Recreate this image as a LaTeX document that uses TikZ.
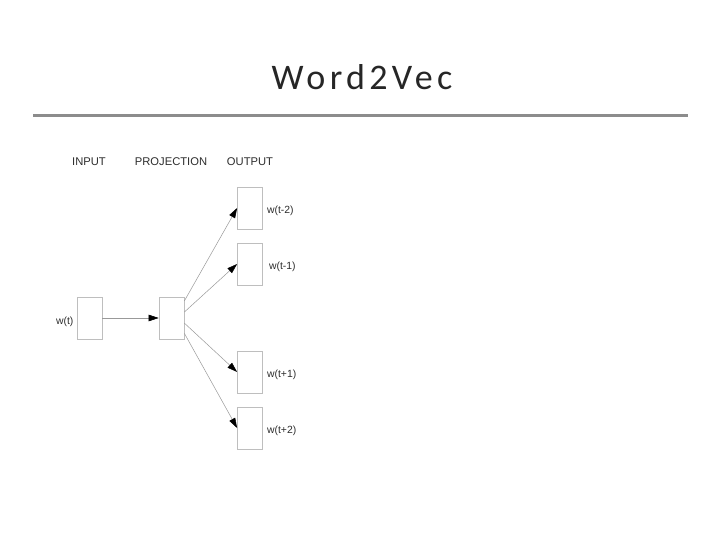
\documentclass[tikz,border=0pt]{standalone}
\usepackage{fontspec}
\setmainfont{Liberation Sans}
\newfontfamily\titlefont[LetterSpace=12]{Carlito}
\usetikzlibrary{arrows.meta,positioning,calc}
\definecolor{frame}{RGB}{190,190,190}
\definecolor{rulegray}{RGB}{140,140,140}
\definecolor{ink}{RGB}{45,45,45}
\tikzset{
  >={Triangle[length=10pt,width=6.5pt,color=black]},
  cell/.style={draw=frame,fill=white,line width=0.8pt,minimum width=25pt,minimum height=42pt,inner sep=0pt},
  head/.style={font=\fontsize{11.2}{13}\selectfont,text=ink},
  wlab/.style={font=\fontsize{10.4}{12}\selectfont,text=ink,inner sep=0pt},
  link/.style={->,draw=gray!80,line width=0.5pt},
}

\begin{document}
\begin{tikzpicture}[x=1pt,y=-1pt]
  \useasboundingbox[fill=white] (0,0) rectangle (720,540);
  % title and rule
  \node[font=\titlefont\fontsize{36}{40}\selectfont,text=black!85] (title) at (362,77) {Word2Vec};
  \coordinate (rl) at (33,116);
  \coordinate (rr) at (688,116);
  \draw[rulegray,line width=3pt] (rl) -- (rr);
  % column heads
  \node[head] (hin) at (89,162) {INPUT};
  \node[head] (hpr) at (171,162) {PROJECTION};
  \node[head] (hout) at (250,162) {OUTPUT};
  % boxes
  \node[cell] (in) at (89.5,318) {};
  \node[cell] (proj) at (171.5,318) {};
  \node[wlab,left=3pt of in,yshift=-4pt] (in-l) {w(t)};
  \foreach \name/\y/\txt/\dx in {om2/208/w(t-2)/4,om1/264/w(t-1)/6,op1/372/w(t+1)/4,op2/428/w(t+2)/4}{
    \node[cell] (\name) at (250,\y) {};
    \node[wlab,right=\dx pt of \name,yshift=-3pt] (\name-l) {\txt};
  }
  % arrows
  \draw[link] (in) -- (proj);
  \draw[link] ($(proj.north east)!0.10!(proj.south east)$) -- (om2.west);
  \draw[link] ($(proj.north east)!0.36!(proj.south east)$) -- (om1.west);
  \draw[link] ($(proj.north east)!0.62!(proj.south east)$) -- (op1.west);
  \draw[link] ($(proj.north east)!0.86!(proj.south east)$) -- (op2.west);
\end{tikzpicture}
\end{document}
